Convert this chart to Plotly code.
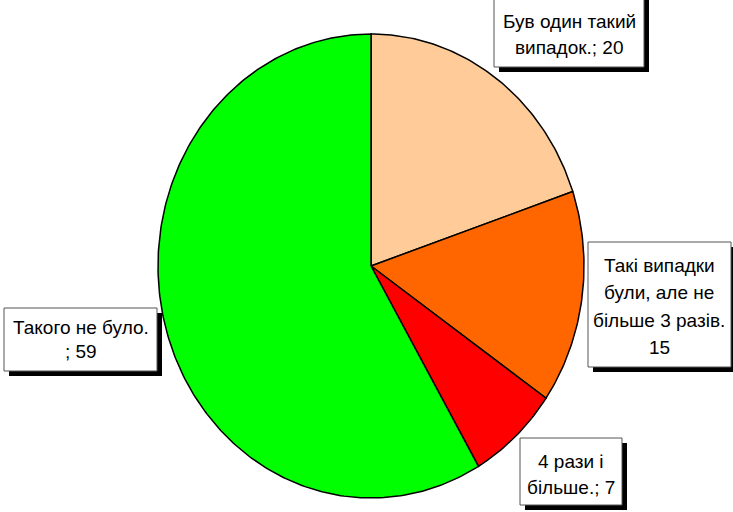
import numpy as np
import plotly.graph_objects as go

# Survey answers, clockwise from 12 o'clock
categories = [
    "Був один такий випадок.",
    "Такі випадки були, але не більше 3 разів.",
    "4 рази і більше.",
    "Такого не було.",
]
values = [20, 15, 7, 59]
colors = ["#FFCC99", "#FF6600", "#FF0000", "#00FF00"]

# Wrapped label lines; {v} is replaced by the slice value
label_lines = [
    ["Був один такий", "випадок.; {v}"],
    ["Такі випадки", "були, але не", "більше 3 разів.", "{v}"],
    ["4 рази і", "більше.; {v}"],
    ["Такого не було.", "; {v}"],
]

W, H = 733, 512
# Elliptical pie geometry in pixel space
CX, CY, RX, RY = 371, 266, 213, 232

# Label boxes: (x0, y0, x1, y1), text centre x, first line centre y, line step
boxes = [
    ((494, -5, 644, 67), 569, 21, 26),
    ((588, 242, 731, 367), 659, 265, 27.5),
    ((520, 438, 622, 505), 571, 461, 26),
    ((4, 308, 157, 371), 81, 327, 24.5),
]

fig = go.Figure()

total = sum(values)
start = 0.0
for cat, val, col in zip(categories, values, colors):
    span = 2 * np.pi * val / total
    th = np.linspace(start, start + span, max(int(val * 4), 8))
    xs = np.concatenate([[CX], CX + RX * np.sin(th), [CX]])
    ys = np.concatenate([[CY], CY - RY * np.cos(th), [CY]])
    fig.add_trace(go.Scatter(
        x=xs, y=ys, mode="lines", fill="toself", fillcolor=col,
        line=dict(color="black", width=1.5), name=cat,
        hoverinfo="text", text=f"{cat}; {val}", showlegend=False,
    ))
    start += span

font = dict(family="Liberation Sans, Arial, sans-serif", size=19, color="black")
for (x0, y0, x1, y1), tx, ty, step in boxes:
    fig.add_shape(type="rect", x0=x0 + 5, y0=y0 + 5, x1=x1 + 5, y1=y1 + 5,
                  fillcolor="black", line=dict(width=0), layer="above")
    fig.add_shape(type="rect", x0=x0, y0=y0, x1=x1, y1=y1,
                  fillcolor="white", line=dict(color="#555555", width=1), layer="above")

for lines, val, (_, tx, ty, step) in zip(label_lines, values, boxes):
    for i, ln in enumerate(lines):
        fig.add_annotation(x=tx, y=ty + i * step, text=ln.format(v=val),
                           showarrow=False, xanchor="center", yanchor="middle",
                           font=font)

fig.update_xaxes(range=[0, W], visible=False, fixedrange=True)
fig.update_yaxes(range=[H, 0], visible=False, fixedrange=True)
fig.update_layout(
    width=W, height=H, margin=dict(l=0, r=0, t=0, b=0),
    paper_bgcolor="white", plot_bgcolor="white", showlegend=False,
)

fig.write_html("out.html")
